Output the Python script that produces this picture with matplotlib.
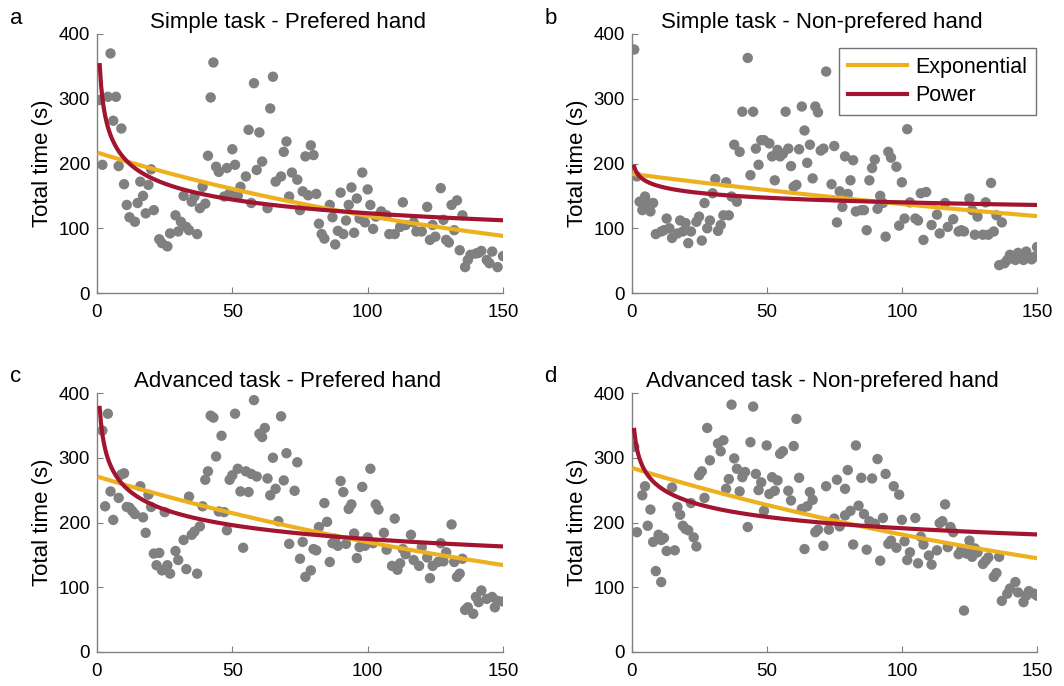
import matplotlib.pyplot as plt
import numpy as np

plt.rcParams['font.family'] = ['Liberation Sans', 'DejaVu Sans']

# trial number / total time per panel
a_x = [1, 2, 4, 5, 6, 7, 8, 9, 10, 11, 12, 14, 15, 16, 17, 18, 19, 20, 21, 23,
       24, 26, 27, 29, 30, 31, 32, 33, 34, 35, 36, 37, 38, 39, 40, 41, 42, 43, 44, 45,
       47, 48, 49, 50, 51, 52, 53, 55, 56, 57, 58, 59, 60, 61, 63, 64, 65, 66, 68, 69,
       70, 71, 72, 74, 75, 76, 77, 78, 79, 80, 81, 82, 83, 84, 86, 87, 88, 89, 90, 91,
       92, 93, 94, 95, 96, 97, 98, 99, 100, 101, 102, 103, 105, 107, 108, 110, 112, 113, 114, 117,
       118, 120, 122, 123, 124, 125, 127, 128, 129, 130, 131, 132, 133, 134, 135, 136, 137, 138, 140, 141,
       142, 144, 145, 146, 148, 150]
a_y = [298, 198, 303, 370, 266, 303, 196, 254, 168, 136, 117, 110, 139, 172, 150, 123, 167, 191, 128, 83,
       77, 72, 92, 120, 95, 110, 150, 102, 97, 141, 149, 91, 131, 164, 138, 212, 302, 356, 195, 187,
       149, 193, 154, 222, 198, 150, 164, 180, 252, 139, 324, 190, 248, 203, 131, 285, 334, 172, 180, 218,
       234, 149, 186, 175, 128, 157, 211, 151, 228, 213, 153, 107, 91, 84, 136, 117, 75, 96, 155, 91,
       112, 136, 163, 93, 146, 115, 186, 109, 160, 136, 99, 118, 126, 120, 91, 91, 102, 140, 105, 109,
       95, 95, 133, 82, 105, 87, 162, 113, 82, 78, 136, 97, 143, 66, 120, 40, 51, 59, 61, 62,
       65, 51, 46, 64, 40, 57]

b_x = [1, 2, 3, 4, 5, 6, 7, 8, 9, 11, 12, 13, 14, 15, 17, 18, 19, 20, 21, 22,
       24, 25, 26, 27, 28, 29, 30, 31, 32, 33, 34, 35, 36, 37, 38, 39, 40, 41, 43, 44,
       45, 46, 47, 48, 49, 51, 52, 53, 54, 55, 56, 57, 58, 59, 60, 61, 62, 63, 64, 65,
       66, 67, 68, 69, 70, 71, 72, 74, 75, 76, 77, 78, 79, 80, 81, 82, 83, 85, 86, 87,
       88, 89, 90, 91, 92, 93, 94, 95, 96, 98, 99, 100, 101, 102, 103, 105, 106, 107, 108, 109,
       111, 113, 114, 116, 117, 119, 121, 122, 123, 125, 126, 127, 128, 130, 131, 132, 133, 134, 135, 136,
       137, 138, 139, 140, 142, 143, 145, 146, 148, 149, 150]
b_y = [376, 180, 141, 128, 149, 139, 126, 139, 91, 95, 97, 115, 100, 85, 92, 112, 95, 108, 77, 95,
       110, 118, 81, 139, 100, 112, 154, 176, 96, 105, 120, 171, 120, 149, 229, 141, 218, 280, 363, 182,
       280, 223, 198, 236, 236, 231, 211, 174, 221, 211, 215, 280, 223, 196, 164, 167, 222, 288, 251, 201,
       229, 177, 288, 279, 220, 223, 342, 168, 227, 109, 157, 133, 211, 153, 174, 205, 126, 128, 128, 97,
       174, 193, 206, 130, 150, 139, 87, 218, 209, 195, 104, 171, 115, 253, 140, 115, 112, 154, 82, 156,
       105, 121, 92, 139, 102, 114, 95, 97, 95, 146, 128, 90, 118, 90, 140, 90, 170, 95, 120, 43,
       109, 46, 51, 59, 51, 62, 51, 64, 52, 56, 71]

c_x = [2, 3, 4, 5, 6, 8, 9, 10, 11, 12, 13, 14, 16, 17, 18, 19, 20, 21, 22, 23,
       24, 25, 26, 27, 29, 30, 32, 33, 34, 35, 36, 37, 38, 39, 40, 41, 42, 43, 44, 45,
       46, 47, 48, 49, 50, 51, 52, 53, 54, 55, 56, 57, 58, 59, 60, 61, 62, 63, 64, 65,
       66, 67, 68, 69, 70, 71, 73, 74, 75, 76, 77, 79, 80, 81, 82, 84, 85, 86, 87, 88,
       89, 90, 91, 92, 93, 94, 95, 96, 97, 98, 99, 100, 101, 102, 103, 104, 106, 107, 109, 110,
       111, 112, 113, 114, 116, 117, 119, 120, 122, 123, 124, 126, 127, 128, 129, 131, 132, 133, 134, 135,
       136, 137, 139, 140, 141, 142, 144, 146, 147, 148, 150]
c_y = [342, 225, 368, 248, 204, 238, 274, 276, 224, 223, 218, 213, 256, 208, 184, 243, 224, 152, 134, 153,
       126, 216, 134, 121, 156, 142, 173, 128, 240, 181, 186, 121, 194, 225, 266, 279, 365, 362, 302, 217,
       334, 216, 188, 266, 273, 368, 283, 248, 161, 279, 247, 275, 389, 271, 337, 332, 346, 268, 242, 300,
       252, 202, 364, 265, 307, 167, 249, 293, 144, 170, 116, 126, 159, 157, 193, 230, 201, 139, 168, 175,
       164, 264, 247, 167, 221, 228, 183, 145, 162, 255, 164, 177, 283, 168, 228, 220, 184, 158, 133, 206,
       127, 137, 159, 151, 181, 142, 133, 162, 146, 114, 133, 139, 168, 140, 154, 197, 139, 116, 121, 144,
       65, 69, 59, 85, 77, 95, 82, 85, 69, 79, 78]

d_x = [1, 2, 4, 5, 6, 7, 8, 9, 10, 11, 11, 12, 13, 15, 16, 17, 18, 19, 20, 21,
       22, 23, 24, 25, 26, 27, 28, 29, 32, 33, 34, 35, 36, 37, 38, 39, 40, 41, 42, 43,
       44, 45, 46, 47, 48, 49, 50, 51, 52, 53, 54, 55, 56, 58, 59, 60, 61, 62, 63, 64,
       65, 66, 67, 68, 69, 71, 72, 73, 75, 76, 77, 79, 79, 80, 81, 82, 83, 84, 85, 86,
       87, 88, 89, 90, 91, 92, 93, 94, 95, 96, 97, 98, 99, 100, 101, 102, 103, 105, 106, 107,
       108, 110, 111, 113, 114, 115, 116, 117, 118, 119, 121, 122, 123, 124, 125, 126, 127, 128, 130, 131,
       132, 134, 135, 136, 137, 139, 140, 142, 143, 145, 146, 147, 149, 150]
d_y = [317, 185, 242, 256, 195, 220, 170, 125, 181, 108, 173, 176, 156, 254, 157, 224, 212, 195, 190, 188,
       230, 177, 163, 273, 279, 238, 346, 296, 322, 310, 327, 252, 267, 382, 299, 283, 248, 270, 278, 193,
       324, 379, 275, 250, 262, 218, 319, 244, 270, 249, 265, 306, 310, 249, 234, 318, 360, 269, 221, 159,
       225, 247, 235, 185, 189, 164, 256, 189, 206, 266, 194, 252, 211, 281, 218, 166, 319, 226, 269, 213,
       158, 202, 268, 198, 298, 141, 207, 275, 167, 172, 256, 161, 243, 204, 171, 142, 154, 207, 137, 178,
       166, 149, 135, 157, 199, 202, 228, 162, 193, 185, 151, 158, 64, 152, 172, 147, 160, 154, 136, 141,
       146, 116, 122, 147, 79, 90, 98, 108, 92, 77, 87, 94, 90, 87]

# fitted models: exponential y = A*exp(k*x), power y = C*x^p
exp_A = [217, 184, 271, 284.5]
exp_k = [-0.0060, -0.00292, -0.00468, -0.0045]
pow_C = [352, 195, 377, 343]
pow_p = [-0.228, -0.072, -0.1673, -0.127]

titles = ['Simple task - Prefered hand', 'Simple task - Non-prefered hand',
          'Advanced task - Prefered hand', 'Advanced task - Non-prefered hand']
letters = ['a', 'b', 'c', 'd']
xs = [a_x, b_x, c_x, d_x]
ys = [a_y, b_y, c_y, d_y]

EXP_COLOR = '#EDB120'
POW_COLOR = '#A2142F'

fig = plt.figure(figsize=(10.64, 6.86), dpi=100)
W, H = 1064, 686
# axes boxes in pixels: left, top, right, bottom
boxes = [(97, 34, 503, 293), (631.5, 34, 1037, 293),
         (97, 393, 503, 652), (631.5, 393, 1037, 652)]

t = np.linspace(1, 150, 300)
for i in range(4):
    l, tp, r, b = boxes[i]
    ax = fig.add_axes([l / W, 1 - b / H, (r - l) / W, (b - tp) / H])
    ax.scatter(xs[i], ys[i], s=56, color='#808080', edgecolors='none', zorder=2)
    ax.plot(t, exp_A[i] * np.exp(exp_k[i] * t), color=EXP_COLOR, lw=3, label='Exponential', zorder=3)
    ax.plot(t, pow_C[i] * t ** pow_p[i], color=POW_COLOR, lw=3, label='Power', zorder=4)
    ax.set_xlim(0, 150)
    ax.set_ylim(0, 400)
    ax.set_xticks([0, 50, 100, 150])
    ax.set_yticks([0, 100, 200, 300, 400])
    for side in ['top', 'right']:
        ax.spines[side].set_visible(False)
    for side in ['left', 'bottom']:
        ax.spines[side].set_color('#808080')
        ax.spines[side].set_linewidth(1)
    ax.tick_params(direction='in', length=4, color='#808080', labelsize=13.5)
    ax.tick_params(axis='x', pad=8)
    ax.tick_params(axis='y', pad=5)
    ax.set_ylabel('Total time (s)', fontsize=16, labelpad=4)
    ax.set_title(titles[i], fontsize=16, pad=4, x=0.47)
    fig.text((l - 87) / W, 1 - (tp - 16) / H, letters[i], fontsize=16, va='center', ha='left')
    if i == 1:
        leg = ax.legend(loc='upper right', bbox_to_anchor=(0.9975, 0.946), borderaxespad=0,
                        fontsize=15.5, handlelength=2.75, frameon=True, fancybox=False,
                        borderpad=0.4, labelspacing=0.35, handletextpad=0.4)
        leg.get_frame().set_edgecolor('#4d4d4d')
        leg.get_frame().set_linewidth(1)

fig.savefig('out.png', dpi=100)
